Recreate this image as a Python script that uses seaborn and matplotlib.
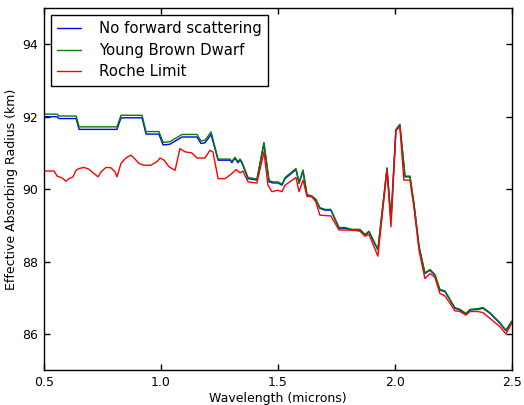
import matplotlib
matplotlib.use('Agg')
import matplotlib.pyplot as plt
import seaborn as sns

# wavelength grid (microns) shared by the two upper curves
wl = [0.500, 0.556, 0.564, 0.637, 0.650, 0.812, 0.829, 0.919, 0.936, 0.991,
      1.009, 1.038, 1.090, 1.154, 1.171, 1.188, 1.214, 1.244, 1.295, 1.303,
      1.316, 1.329, 1.338, 1.346, 1.372, 1.410, 1.440, 1.462, 1.479, 1.500,
      1.517, 1.530, 1.577, 1.590, 1.607, 1.624, 1.645, 1.662, 1.679, 1.701,
      1.726, 1.761, 1.786, 1.816, 1.850, 1.872, 1.889, 1.906, 1.927, 1.966,
      1.983, 2.004, 2.021, 2.043, 2.064, 2.081, 2.103, 2.128, 2.150, 2.171,
      2.192, 2.214, 2.235, 2.256, 2.278, 2.303, 2.321, 2.355, 2.376, 2.406,
      2.449, 2.474, 2.500]

no_forward = [92.00, 92.00, 91.95, 91.95, 91.65, 91.65, 91.97, 91.97, 91.52, 91.52,
              91.22, 91.24, 91.44, 91.44, 91.26, 91.28, 91.51, 90.80, 90.80, 90.73,
              90.85, 90.73, 90.80, 90.72, 90.29, 90.25, 91.26, 90.20, 90.17, 90.17,
              90.11, 90.29, 90.54, 90.16, 90.50, 89.83, 89.79, 89.70, 89.47, 89.42,
              89.42, 88.92, 88.92, 88.87, 88.87, 88.73, 88.82, 88.59, 88.32, 90.57,
              89.14, 91.63, 91.77, 90.34, 90.34, 89.60, 88.40, 87.67, 87.76, 87.62,
              87.21, 87.17, 86.94, 86.71, 86.66, 86.55, 86.66, 86.68, 86.71, 86.57,
              86.29, 86.09, 86.34]

young_bd = [92.07, 92.07, 92.02, 92.02, 91.72, 91.72, 92.04, 92.04, 91.59, 91.59,
            91.29, 91.31, 91.51, 91.51, 91.33, 91.35, 91.58, 90.83, 90.83, 90.76,
            90.88, 90.76, 90.83, 90.75, 90.32, 90.28, 91.29, 90.23, 90.20, 90.20,
            90.14, 90.32, 90.57, 90.19, 90.53, 89.85, 89.81, 89.72, 89.49, 89.44,
            89.44, 88.94, 88.94, 88.89, 88.89, 88.75, 88.84, 88.61, 88.34, 90.59,
            89.16, 91.65, 91.79, 90.36, 90.36, 89.62, 88.42, 87.69, 87.78, 87.64,
            87.23, 87.19, 86.96, 86.73, 86.68, 86.57, 86.68, 86.70, 86.73, 86.59,
            86.31, 86.11, 86.36]

wl_roche = [0.500, 0.543, 0.556, 0.577, 0.594, 0.607, 0.624, 0.637, 0.650, 0.671,
            0.692, 0.714, 0.731, 0.744, 0.765, 0.786, 0.803, 0.812, 0.829, 0.850,
            0.872, 0.889, 0.906, 0.927, 0.957, 0.983, 0.996, 1.013, 1.034, 1.060,
            1.081, 1.103, 1.132, 1.154, 1.188, 1.209, 1.222, 1.244, 1.274, 1.303,
            1.321, 1.338, 1.350, 1.372, 1.410, 1.440, 1.457, 1.474, 1.500, 1.517,
            1.530, 1.577, 1.590, 1.607, 1.624, 1.645, 1.662, 1.679, 1.726, 1.761,
            1.816, 1.850, 1.872, 1.889, 1.927, 1.966, 1.983, 2.004, 2.021, 2.038,
            2.064, 2.081, 2.103, 2.128, 2.150, 2.171, 2.192, 2.214, 2.235, 2.256,
            2.278, 2.303, 2.321, 2.355, 2.376, 2.406, 2.449, 2.474, 2.500]

roche = [90.50, 90.50, 90.36, 90.31, 90.22, 90.29, 90.34, 90.52, 90.57, 90.60,
         90.55, 90.43, 90.34, 90.48, 90.60, 90.59, 90.48, 90.34, 90.71, 90.86,
         90.94, 90.83, 90.71, 90.66, 90.66, 90.76, 90.86, 90.80, 90.62, 90.52,
         91.12, 91.03, 91.00, 90.86, 90.86, 91.07, 91.03, 90.29, 90.29, 90.43,
         90.54, 90.45, 90.50, 90.20, 90.17, 91.03, 90.11, 89.93, 89.97, 89.93,
         90.11, 90.32, 89.93, 90.25, 89.80, 89.79, 89.65, 89.28, 89.26, 88.87,
         88.87, 88.84, 88.70, 88.75, 88.15, 90.52, 88.96, 91.63, 91.72, 90.25,
         90.25, 89.50, 88.30, 87.53, 87.67, 87.56, 87.12, 87.05, 86.85, 86.64,
         86.62, 86.52, 86.62, 86.62, 86.59, 86.43, 86.20, 86.00, 86.31]

sns.set_style("ticks")
plt.rcParams['font.family'] = ['DejaVu Sans']
plt.rcParams['font.size'] = 9
plt.rcParams['text.color'] = 'black'
plt.rcParams['axes.labelcolor'] = 'black'
plt.rcParams['xtick.color'] = 'black'
plt.rcParams['ytick.color'] = 'black'
plt.rcParams['xtick.direction'] = 'in'
plt.rcParams['ytick.direction'] = 'in'
plt.rcParams['xtick.top'] = True
plt.rcParams['ytick.right'] = True

fig = plt.figure(figsize=(5.24, 4.05), dpi=100)
ax = fig.add_axes([0.084, 0.086, 0.893, 0.894])

sns.lineplot(x=wl, y=no_forward, color=(0, 0, 1), linewidth=1.0,
             label="No forward scattering", ax=ax)
sns.lineplot(x=wl, y=young_bd, color=(0, 0.5, 0), linewidth=1.0,
             label="Young Brown Dwarf", ax=ax)
sns.lineplot(x=wl_roche, y=roche, color=(1, 0, 0), linewidth=1.0,
             label="Roche Limit", ax=ax)

ax.set_xlim(0.5, 2.5)
ax.set_ylim(85, 95)
ax.set_xticks([0.5, 1.0, 1.5, 2.0, 2.5])
ax.set_yticks([86, 88, 90, 92, 94])
ax.tick_params(length=4, width=1, colors='black', labelsize=9, pad=4)
for s in ax.spines.values():
    s.set_color('black')
    s.set_linewidth(1.0)
ax.set_xlabel("Wavelength (microns)", fontsize=9, labelpad=2)
ax.set_ylabel("Effective Absorbing Radius (km)", fontsize=9, labelpad=3)

leg = ax.legend(loc='upper left', fancybox=False, framealpha=1, edgecolor='black',
                fontsize=10.7, handlelength=1.6, borderaxespad=0.45, borderpad=0.45,
                labelspacing=0.43, handletextpad=1.2)
leg.get_frame().set_linewidth(1.0)
for t in leg.get_texts():
    t.set_color('black')

fig.savefig("out.png", dpi=100, facecolor='white')
